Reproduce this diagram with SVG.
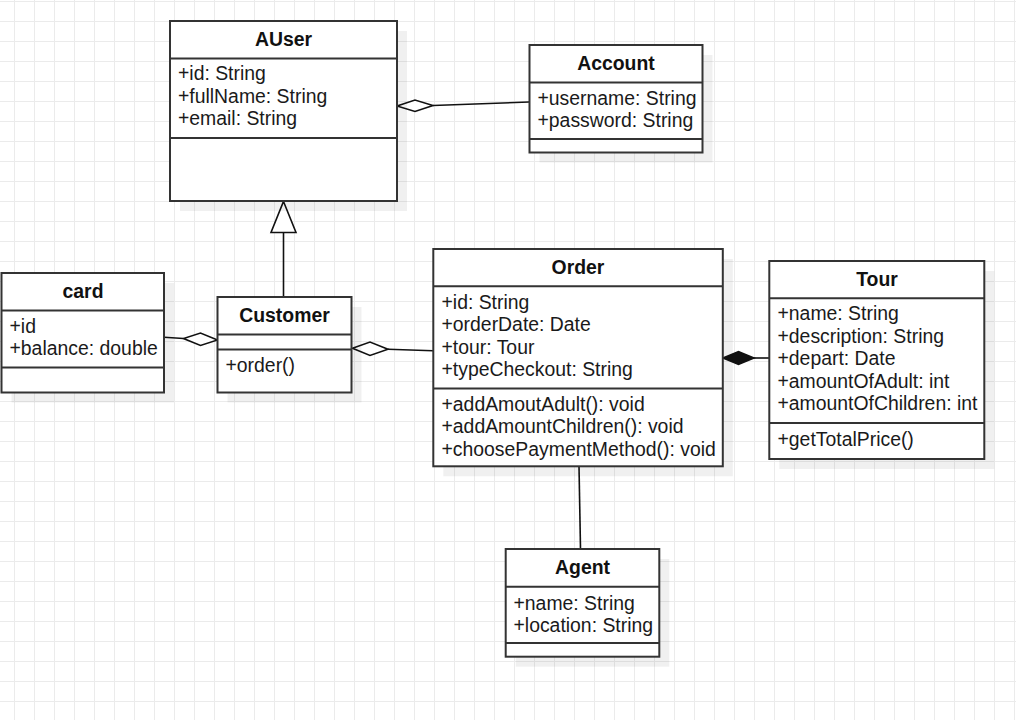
<svg xmlns="http://www.w3.org/2000/svg" width="1016" height="720" viewBox="0 0 1016 720">
<style>
.box{fill:#fff;stroke:#333;stroke-width:2}
.shadow{fill:#000;fill-opacity:0.06}
.sep{stroke:#333;stroke-width:2;fill:none}
.title{font-family:"Liberation Sans",Arial,sans-serif;font-size:19.4px;font-weight:bold;fill:#111;text-anchor:middle}
.txt{font-family:"Liberation Sans",Arial,sans-serif;font-size:19.4px;fill:#1a1a1a}
.edge{stroke:#111;stroke-width:1.6;fill:none}
.hollow{fill:#fff;stroke:#111;stroke-width:1.6}
.solid{fill:#111;stroke:#111;stroke-width:1.6}
</style>
<defs>
<pattern id="grid" x="14" y="1" width="20" height="20" patternUnits="userSpaceOnUse">
<path d="M0.5 0V20M0 0.5H20" stroke="#ebebeb" stroke-width="1" fill="none"/>
</pattern>
</defs>
<rect width="1016" height="720" fill="#fff"/>
<rect width="1016" height="720" fill="url(#grid)"/>

<g id="connectors">
<line class="edge" x1="433" y1="105.5" x2="529" y2="102"/>
<path class="hollow" d="M397 106 L415 100 L433 105.5 L415 111.5 Z"/>
<line class="edge" x1="283.5" y1="233" x2="283.5" y2="297"/>
<path class="hollow" d="M283.5 201.5 L296 232.5 L271 232.5 Z"/>
<line class="edge" x1="164" y1="337.3" x2="183.5" y2="338.5"/>
<path class="hollow" d="M217.5 340 L200.5 333 L183.5 338.5 L200.5 345.5 Z"/>
<line class="edge" x1="388" y1="349.3" x2="433" y2="350.7"/>
<path class="hollow" d="M352.5 348.3 L370 342 L388 349.3 L370 355.5 Z"/>
<line class="edge" x1="754" y1="358" x2="769" y2="358"/>
<path class="solid" d="M723 358 L738.5 351.5 L754 358 L738.5 364.5 Z"/>
<line class="edge" x1="579" y1="466" x2="580.5" y2="549"/>
</g>

<g id="AUser">
<rect class="shadow" x="180" y="31" width="227" height="180"/>
<rect class="box" x="170" y="21" width="227" height="180"/>
<path class="sep" d="M170 58.5H397M170 138H397"/>
<text class="title" x="283.5" y="46">AUser</text>
<text class="txt" x="178" y="80">+id: String</text>
<text class="txt" x="178" y="102.5">+fullName: String</text>
<text class="txt" x="178" y="125">+email: String</text>
</g>

<g id="Account">
<rect class="shadow" x="539.5" y="55" width="173" height="107.5"/>
<rect class="box" x="529.5" y="45" width="173" height="107.5"/>
<path class="sep" d="M529.5 82.5H702.5M529.5 139H702.5"/>
<text class="title" x="616" y="70">Account</text>
<text class="txt" x="537.5" y="104.5">+username: String</text>
<text class="txt" x="537.5" y="127">+password: String</text>
</g>

<g id="card">
<rect class="shadow" x="11.5" y="283" width="162.5" height="119.5"/>
<rect class="box" x="1.5" y="273" width="162.5" height="119.5"/>
<path class="sep" d="M1.5 310.5H164M1.5 367.5H164"/>
<text class="title" x="83" y="298">card</text>
<text class="txt" x="9.5" y="332.5">+id</text>
<text class="txt" x="9.5" y="355">+balance: double</text>
</g>

<g id="Customer">
<rect class="shadow" x="227.5" y="307" width="134" height="95.5"/>
<rect class="box" x="217.5" y="297" width="134" height="95.5"/>
<path class="sep" d="M217.5 334.5H351.5M217.5 349.5H351.5"/>
<text class="title" x="284.5" y="321.5">Customer</text>
<text class="txt" x="225.5" y="371.5">+order()</text>
</g>

<g id="Order">
<rect class="shadow" x="443.3" y="259" width="289.5" height="217.3"/>
<rect class="box" x="433.3" y="249" width="289.5" height="217.3"/>
<path class="sep" d="M433.3 286.3H722.8M433.3 388.5H722.8"/>
<text class="title" x="578" y="274">Order</text>
<text class="txt" x="441.5" y="308.5">+id: String</text>
<text class="txt" x="441.5" y="331">+orderDate: Date</text>
<text class="txt" x="441.5" y="353.5">+tour: Tour</text>
<text class="txt" x="441.5" y="376">+typeCheckout: String</text>
<text class="txt" x="441.5" y="410.5">+addAmoutAdult(): void</text>
<text class="txt" x="441.5" y="433">+addAmountChildren(): void</text>
<text class="txt" x="441.5" y="455.5">+choosePaymentMethod(): void</text>
</g>

<g id="Tour">
<rect class="shadow" x="779.3" y="271" width="215" height="198"/>
<rect class="box" x="769.3" y="261" width="215" height="198"/>
<path class="sep" d="M769.3 298.3H984.3M769.3 423H984.3"/>
<text class="title" x="877" y="286">Tour</text>
<text class="txt" x="777.5" y="320">+name: String</text>
<text class="txt" x="777.5" y="342.5">+description: String</text>
<text class="txt" x="777.5" y="365">+depart: Date</text>
<text class="txt" x="777.5" y="387.5">+amountOfAdult: int</text>
<text class="txt" x="777.5" y="410">+amountOfChildren: int</text>
<text class="txt" x="777.5" y="445.5">+getTotalPrice()</text>
</g>

<g id="Agent">
<rect class="shadow" x="515.7" y="559" width="153.6" height="107.7"/>
<rect class="box" x="505.7" y="549" width="153.6" height="107.7"/>
<path class="sep" d="M505.7 586.7H659.3M505.7 643H659.3"/>
<text class="title" x="582.5" y="574">Agent</text>
<text class="txt" x="513.5" y="609.5">+name: String</text>
<text class="txt" x="513.5" y="631.5">+location: String</text>
</g>
</svg>
